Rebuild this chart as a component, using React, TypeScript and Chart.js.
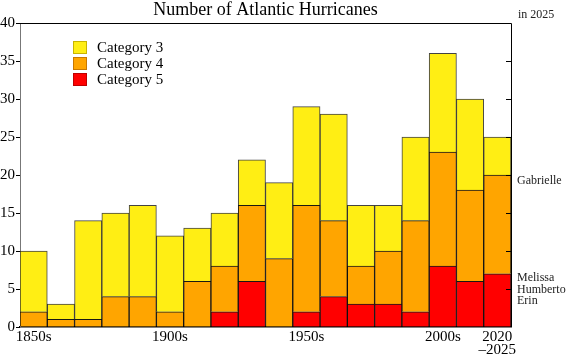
import React, { useEffect, useRef } from "react";
import { Chart, registerables } from "chart.js";

Chart.register(...registerables);

const categories = [
  "1850s", "1860s", "1870s", "1880s", "1890s", "1900s", "1910s", "1920s", "1930s",
  "1940s", "1950s", "1960s", "1970s", "1980s", "1990s", "2000s", "2010s", "2020–2025",
];
const category3 = [8, 2, 13, 11, 12, 10, 7, 7, 6, 10, 13, 14, 8, 6, 11, 13, 12, 5];
const category4 = [2, 1, 1, 4, 4, 2, 6, 6, 10, 9, 14, 10, 5, 7, 12, 15, 12, 13];
const category5 = [0, 0, 0, 0, 0, 0, 0, 2, 6, 0, 2, 4, 3, 3, 2, 8, 6, 7];
const labeledCategories = ["1850s", "1900s", "1950s", "2000s", "2020–2025"];
const yMin = 0;
const yMax = 40;
const yStep = 5;
const stormNames = ["Gabrielle", "Melissa", "Humberto", "Erin"];
const stormLabelValues = [19.2, 6.5, 4.9, 3.4];
const titleText = "Number of Atlantic Hurricanes";
const yearNote = "in 2025";

const YELLOW = "rgb(255,238,20)";
const ORANGE = "rgb(255,165,0)";
const RED = "rgb(255,0,0)";
const FONT = "'Liberation Serif', 'Times New Roman', serif";

const overlayPlugin = {
  id: "overlay",
  afterDraw(chart: any) {
    const { ctx, chartArea } = chart;
    const { left, right, top, bottom } = chartArea;
    const yScale = chart.scales.y;
    ctx.save();
    ctx.strokeStyle = "#000";
    ctx.lineWidth = 1;
    ctx.beginPath();
    ctx.moveTo(left, top + 0.5);
    ctx.lineTo(right + 0.5, top + 0.5);
    ctx.lineTo(right + 0.5, bottom);
    ctx.stroke();
    for (let v = yMin + yStep; v < yMax; v += yStep) {
      const py = Math.round(yScale.getPixelForValue(v)) + 0.5;
      ctx.beginPath();
      ctx.moveTo(right - 5, py);
      ctx.lineTo(right, py);
      ctx.stroke();
    }
    ctx.fillStyle = "#000";
    ctx.font = `18px ${FONT}`;
    ctx.textAlign = "center";
    ctx.textBaseline = "middle";
    ctx.fillText(titleText, (left + right) / 2, 10);
    const legendItems = [
      { label: "Category 3", color: YELLOW, border: "rgb(200,180,0)" },
      { label: "Category 4", color: ORANGE, border: "rgb(200,120,0)" },
      { label: "Category 5", color: RED, border: "rgb(190,0,0)" },
    ];
    ctx.font = `15px ${FONT}`;
    ctx.textAlign = "left";
    legendItems.forEach((it, i) => {
      const bx = left + 53;
      const by = top + 18 + i * 16;
      ctx.fillStyle = it.color;
      ctx.fillRect(bx, by, 14, 13);
      ctx.strokeStyle = it.border;
      ctx.strokeRect(bx + 0.5, by + 0.5, 13, 12);
      ctx.fillStyle = "#000";
      ctx.fillText(it.label, bx + 24, by + 7);
    });
    ctx.font = `12px ${FONT}`;
    ctx.fillStyle = "#222";
    ctx.fillText(yearNote, right + 7, 15);
    stormNames.forEach((name, i) => {
      ctx.fillText(name, right + 6, yScale.getPixelForValue(stormLabelValues[i]));
    });
    ctx.restore();
  },
};

export default function App() {
  const canvasRef = useRef<HTMLCanvasElement | null>(null);

  useEffect(() => {
    if (!canvasRef.current) return;
    const barBorder = "rgba(0,0,0,0.9)";
    const chart = new Chart(canvasRef.current, {
      type: "bar",
      data: {
        labels: categories,
        datasets: [
          { label: "Category 5", data: category5, backgroundColor: RED, borderColor: barBorder, borderWidth: 1 },
          { label: "Category 4", data: category4, backgroundColor: ORANGE, borderColor: barBorder, borderWidth: 1 },
          { label: "Category 3", data: category3, backgroundColor: YELLOW, borderColor: "rgba(20,20,20,0.8)", borderWidth: 1 },
        ],
      },
      options: {
        responsive: false,
        animation: false,
        devicePixelRatio: 1,
        layout: { padding: { top: 23, right: 56, left: 0, bottom: 0 } },
        datasets: { bar: { categoryPercentage: 1, barPercentage: 1 } },
        plugins: {
          legend: { display: false },
          title: { display: false },
          tooltip: { enabled: false },
        },
        scales: {
          x: {
            stacked: true,
            grid: { display: false, drawTicks: false },
            border: { display: true, color: "#000", width: 1.5 },
            ticks: {
              autoSkip: false,
              maxRotation: 0,
              padding: 3,
              color: "#000",
              font: { family: FONT, size: 15, lineHeight: 0.9 },
              callback: (_v: any, index: number) => {
                const c = categories[index];
                if (!labeledCategories.includes(c)) return "";
                if (c.includes("–")) return c.replace("–", "\n–").split("\n");
                return c;
              },
            },
            afterFit: (s: any) => {
              s.height = 28;
            },
          },
          y: {
            stacked: true,
            min: yMin,
            max: yMax,
            grid: { drawOnChartArea: false, tickLength: 4, color: "#000" },
            border: { display: true, color: "#777", width: 1 },
            ticks: {
              stepSize: yStep,
              padding: 1,
              color: "#000",
              font: { family: FONT, size: 15 },
            },
            afterFit: (s: any) => {
              s.width = 20;
            },
          },
        },
      },
      plugins: [overlayPlugin],
    } as any);
    return () => chart.destroy();
  }, []);

  return (
    <div style={{ position: "fixed", left: 0, top: 0, width: 567, height: 355, background: "#fff" }}>
      <canvas ref={canvasRef} width={567} height={355} style={{ display: "block" }} />
    </div>
  );
}
